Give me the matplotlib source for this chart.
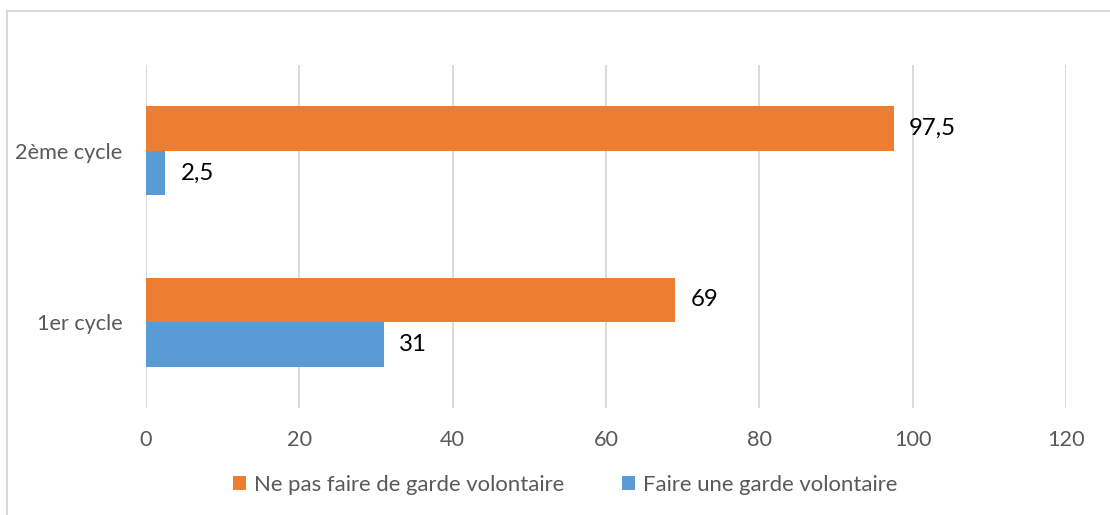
import matplotlib
matplotlib.use("Agg")
import matplotlib.pyplot as plt
from matplotlib.lines import Line2D
import numpy as np

plt.rcParams['font.family'] = ['Lato', 'DejaVu Sans']

categories = ["1er cycle", "2ème cycle"]
series_names = ["Ne pas faire de garde volontaire", "Faire une garde volontaire"]
ne_pas_faire = [69, 97.5]
faire = [31, 2.5]
value_labels_ne_pas = ["69", "97,5"]
value_labels_faire = ["31", "2,5"]
x_ticks = [0, 20, 40, 60, 80, 100, 120]

ORANGE = "#ED7D31"
BLUE = "#5B9BD5"
GRID = "#D9D9D9"
TXT = "#595959"

fig = plt.figure(figsize=(11.1, 5.15), dpi=100)
ax = fig.add_axes([146/1110, 1-408/515, (1066-146)/1110, (408-65)/515])

y = np.arange(len(categories))
h = 0.26
b1 = ax.barh(y + h/2, ne_pas_faire, height=h, color=ORANGE, label=series_names[0], zorder=3)
b2 = ax.barh(y - h/2, faire, height=h, color=BLUE, label=series_names[1], zorder=3)

for bars, labels in ((b1, value_labels_ne_pas), (b2, value_labels_faire)):
    ax.bar_label(bars, labels=labels, padding=11, fontsize=17.3, color="black")

ax.set_xlim(0, 120)
ax.set_ylim(-0.5, 1.5)
ax.set_xticks(x_ticks)
ax.set_xticklabels([str(t) for t in x_ticks])
ax.set_yticks(y)
ax.set_yticklabels(categories)
ax.tick_params(axis='x', length=0, pad=16, labelsize=15.6, labelcolor=TXT)
ax.tick_params(axis='y', length=0, pad=17, labelsize=15.6, labelcolor=TXT)
ax.grid(axis='x', color=GRID, linewidth=1.4, zorder=0)
for s in ax.spines.values():
    s.set_visible(False)

leg = fig.legend(handles=[b1, b2], loc='center', bbox_to_anchor=(565/1110, 1-485/515),
                 ncol=2, frameon=False, fontsize=15.9, handlelength=0.6, handleheight=0.6,
                 handletextpad=0.35, columnspacing=2.6)
for t in leg.get_texts():
    t.set_color(TXT)

# chart area border (left and top visible)
fig.add_artist(Line2D([7/1110, 7/1110], [0, 1-11/515], transform=fig.transFigure, color=GRID, linewidth=1.5))
fig.add_artist(Line2D([7/1110, 1], [1-11/515, 1-11/515], transform=fig.transFigure, color=GRID, linewidth=1.5))

fig.savefig("out.png", dpi=100, facecolor="white")
